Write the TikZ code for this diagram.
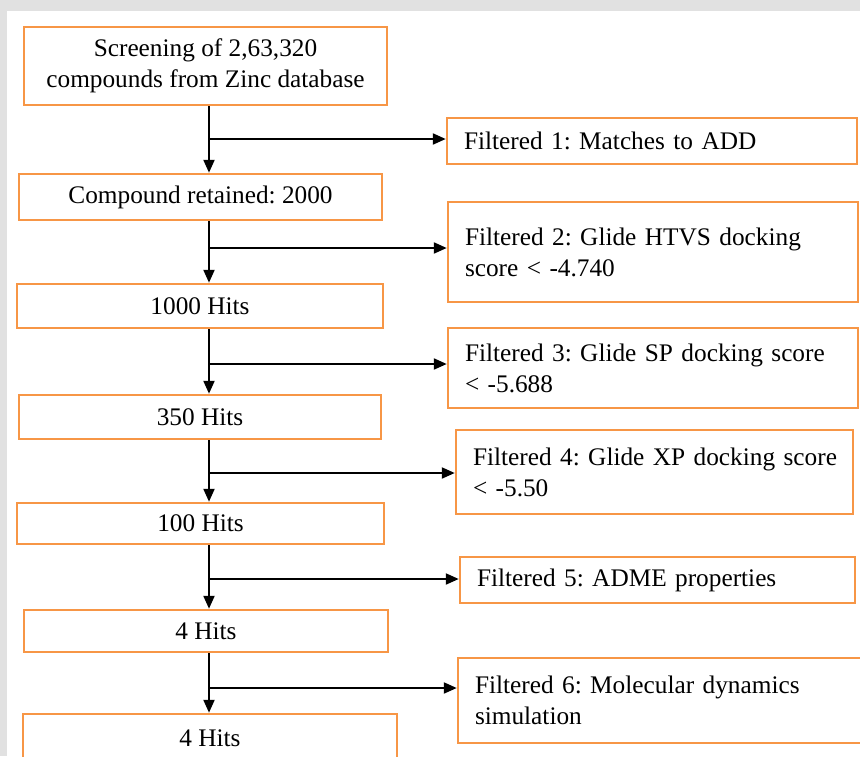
\documentclass[tikz,border=0pt]{standalone}
\usepackage{fontspec}
\setmainfont{Liberation Serif}
\usetikzlibrary{arrows.meta}
\definecolor{boxorange}{HTML}{F79646}
\definecolor{bggray}{HTML}{E1E1E1}
\frenchspacing
\begin{document}
\begin{tikzpicture}[x=1pt,y=-1pt,
  every node/.style={font=\frenchspacing\fontsize{25.3}{31}\selectfont, text=black},
  stage/.style={draw=boxorange, line width=2.5pt, fill=white, inner sep=0pt, align=center, anchor=center},
  filt/.style={draw=boxorange, line width=2.5pt, fill=white, inner xsep=17pt, inner ysep=0pt, align=left, anchor=center},
  arr/.style={draw=black, line width=2.2pt, -{Triangle[length=13pt,width=11pt]}},
]
\useasboundingbox (0,0) rectangle (860,756);
\clip (0,0) rectangle (860,756);
\fill[bggray] (0,0) rectangle (860,756);
\fill[white] (7,11) rectangle (860,756);

% main column
\node[stage, minimum width=363pt, minimum height=78pt] (b1) at (205.5,66) {Screening of 2,63,320\\compounds from Zinc database};
\node[stage, minimum width=363pt, minimum height=46pt] (b2) at (200.5,197) {Compound retained: 2000};
\node[stage, minimum width=366pt, minimum height=44pt] (b3) at (200,306) {1000 Hits};
\node[stage, minimum width=362pt, minimum height=44pt] (b4) at (200,417) {350 Hits};
\node[stage, minimum width=367pt, minimum height=41pt] (b5) at (200.5,523.5) {100 Hits};
\node[stage, minimum width=364pt, minimum height=42pt] (b6) at (206,631) {4 Hits};
\node[stage, minimum width=374pt, minimum height=48pt] (b7) at (210,738) {4 Hits};

% filter boxes
\node[filt, text width=376pt, minimum height=46pt] (f1) at (652,141) {\mbox{Filtered 1: Matches to ADD}};
\node[filt, text width=376pt, minimum height=100pt] (f2) at (653,252) {\mbox{Filtered 2: Glide HTVS docking}\\\mbox{score < -4.740}};
\node[filt, text width=376pt, minimum height=80pt] (f3) at (653,368) {\mbox{Filtered 3: Glide SP docking score}\\\mbox{< -5.688}};
\node[filt, text width=363pt, minimum height=84pt] (f4) at (654.5,472) {\mbox{Filtered 4: Glide XP docking score}\\\mbox{< -5.50}};
\node[filt, text width=361pt, minimum height=46pt] (f5) at (657.5,580) {\mbox{Filtered 5: ADME properties}};
\node[filt, text width=370pt, minimum height=85pt] (f6) at (660,700.5) {\mbox{Filtered 6: Molecular dynamics}\\\mbox{simulation}};

% spine and junctions
\coordinate (spine) at (209,0);
\coordinate (j1) at (209,139);
\coordinate (j2) at (209,248);
\coordinate (j3) at (209,364);
\coordinate (j4) at (209,473);
\coordinate (j5) at (209,579);
\coordinate (j6) at (209,688);

\draw[arr] (b1.south -| spine) -- (b2.north -| spine);
\draw[arr] (b2.south -| spine) -- (b3.north -| spine);
\draw[arr] (b3.south -| spine) -- (b4.north -| spine);
\draw[arr] (b4.south -| spine) -- (b5.north -| spine);
\draw[arr] (b5.south -| spine) -- (b6.north -| spine);
\draw[arr] (b6.south -| spine) -- (b7.north -| spine);

\draw[arr] (j1) -- (j1 -| f1.west);
\draw[arr] (j2) -- (j2 -| f2.west);
\draw[arr] (j3) -- (j3 -| f3.west);
\draw[arr] (j4) -- (j4 -| f4.west);
\draw[arr] (j5) -- (j5 -| f5.west);
\draw[arr] (j6) -- (j6 -| f6.west);
\end{tikzpicture}
\end{document}
